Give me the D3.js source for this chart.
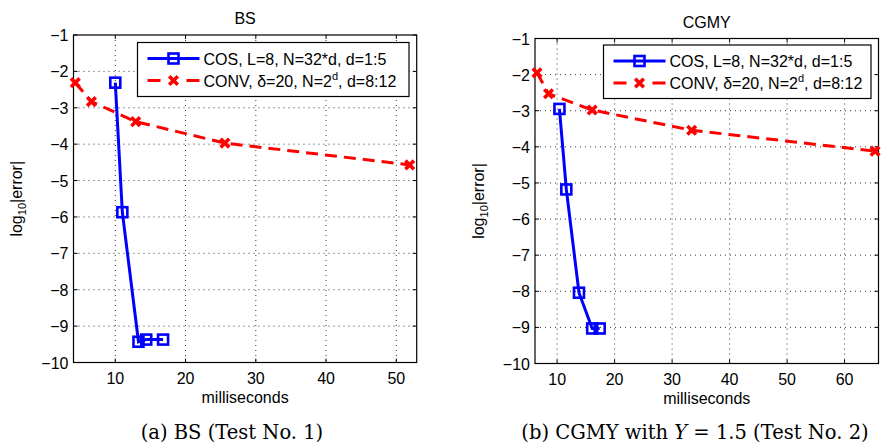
<!DOCTYPE html>
<html>
<head>
<meta charset="utf-8">
<script src="https://cdn.jsdelivr.net/npm/d3@7"></script>
<style>
  body { margin: 0; background: #fff; }
  svg { display: block; }
  .tick-lbl { font-family: "Liberation Sans", Arial, sans-serif; font-size: 16px; fill: #000; }
  .caption { font-family: "DejaVu Serif", "Liberation Serif", serif; font-size: 19.5px; fill: #000; }
</style>
</head>
<body>
<div id="chart"></div>
<script>
// ─── Data ───
const bsCosX = [10.0, 11.0, 13.3, 14.4, 16.8];
const bsCosY = [-2.31, -5.87, -9.43, -9.37, -9.37];
const bsConvX = [4.3, 6.6, 12.9, 25.6, 51.9];
const bsConvY = [-2.31, -2.83, -3.38, -3.97, -4.57];

const cgmyCosX = [10.4, 11.6, 13.8, 16.1, 17.4];
const cgmyCosY = [-2.95, -5.18, -8.04, -9.03, -9.03];
const cgmyConvX = [6.5, 8.5, 16.1, 33.4, 65.3];
const cgmyConvY = [-1.95, -2.53, -2.98, -3.54, -4.12];

const yTicks = [-1, -2, -3, -4, -5, -6, -7, -8, -9, -10];
const bsXTicks = [10, 20, 30, 40, 50];
const cgmyXTicks = [10, 20, 30, 40, 50, 60];

const cosLabel = "COS, L=8, N=32*d, d=1:5";

const W = 882, H = 444;
const svg = d3.select("#chart").append("svg").attr("width", W).attr("height", H);

const fmt = (v) => String(v).replace("-", "\u2212");

function panel(opts) {
  const { box, xDomain, xTicks, title, cos, conv, legend, caption, yLabelX } = opts;
  const x = d3.scaleLinear().domain(xDomain).range([box.x0, box.x1]);
  const y = d3.scaleLinear().domain([-10, -1]).range([box.y1, box.y0]);
  const g = svg.append("g");

  // grid (dotted)
  g.selectAll("line.gx").data(xTicks).join("line")
    .attr("x1", (d) => x(d)).attr("x2", (d) => x(d))
    .attr("y1", box.y0).attr("y2", box.y1)
    .attr("stroke", "#000").attr("stroke-width", 0.8)
    .attr("stroke-dasharray", "1,4");
  g.selectAll("line.gy").data(yTicks.slice(1, -1)).join("line")
    .attr("y1", (d) => y(d)).attr("y2", (d) => y(d))
    .attr("x1", box.x0).attr("x2", box.x1)
    .attr("stroke", "#000").attr("stroke-width", 0.8)
    .attr("stroke-dasharray", "1,4");

  // inward ticks on all four sides
  const tl = 4;
  xTicks.forEach((t) => {
    g.append("line").attr("x1", x(t)).attr("x2", x(t)).attr("y1", box.y1).attr("y2", box.y1 - tl).attr("stroke", "#000");
    g.append("line").attr("x1", x(t)).attr("x2", x(t)).attr("y1", box.y0).attr("y2", box.y0 + tl).attr("stroke", "#000");
    g.append("text").attr("class", "tick-lbl").attr("x", x(t)).attr("y", box.y1 + 21)
      .attr("text-anchor", "middle").text(fmt(t));
  });
  yTicks.forEach((t) => {
    g.append("line").attr("y1", y(t)).attr("y2", y(t)).attr("x1", box.x0).attr("x2", box.x0 + tl).attr("stroke", "#000");
    g.append("line").attr("y1", y(t)).attr("y2", y(t)).attr("x1", box.x1).attr("x2", box.x1 - tl).attr("stroke", "#000");
    g.append("text").attr("class", "tick-lbl").attr("x", box.x0 - 5).attr("y", y(t) + 6)
      .attr("text-anchor", "end").text(fmt(t));
  });

  // frame
  g.append("rect").attr("x", box.x0).attr("y", box.y0)
    .attr("width", box.x1 - box.x0).attr("height", box.y1 - box.y0)
    .attr("fill", "none").attr("stroke", "#000").attr("stroke-width", 1.2);

  // title + axis labels
  g.append("text").attr("class", "tick-lbl").attr("x", (box.x0 + box.x1) / 2).attr("y", box.y0 - 11)
    .attr("text-anchor", "middle").text(title);
  g.append("text").attr("class", "tick-lbl").attr("x", (box.x0 + box.x1) / 2).attr("y", box.y1 + 40)
    .attr("text-anchor", "middle").text("milliseconds");
  const yl = g.append("text").attr("class", "tick-lbl")
    .attr("transform", `translate(${yLabelX},${(box.y0 + box.y1) / 2}) rotate(-90)`)
    .attr("text-anchor", "middle");
  yl.append("tspan").text("log");
  yl.append("tspan").attr("dy", 4).style("font-size", "11px").text("10");
  yl.append("tspan").attr("dy", -4).text("|error|");

  const line = d3.line().x((d) => x(d[0])).y((d) => y(d[1]));

  // CONV (red dashed, x markers)
  const convPts = conv.x.map((v, i) => [v, conv.y[i]]);
  g.append("path").attr("d", line(convPts)).attr("fill", "none")
    .attr("stroke", "#ff0000").attr("stroke-width", 3).attr("stroke-dasharray", "12,7");
  const cross = (sel, cx, cy) => {
    const s = 4.3;
    sel.append("path")
      .attr("d", `M${cx - s},${cy - s}L${cx + s},${cy + s}M${cx - s},${cy + s}L${cx + s},${cy - s}`)
      .attr("stroke", "#ff0000").attr("stroke-width", 3.6).attr("fill", "none");
  };
  convPts.forEach((p) => cross(g, x(p[0]), y(p[1])));

  // COS (blue solid, square markers)
  const cosPts = cos.x.map((v, i) => [v, cos.y[i]]);
  g.append("path").attr("d", line(cosPts)).attr("fill", "none")
    .attr("stroke", "#0000ff").attr("stroke-width", 3);
  const square = (sel, cx, cy) => {
    sel.append("rect").attr("x", cx - 5).attr("y", cy - 5).attr("width", 10).attr("height", 10)
      .attr("fill", "none").attr("stroke", "#0000ff").attr("stroke-width", 2.6);
  };
  cosPts.forEach((p) => square(g, x(p[0]), y(p[1])));

  // legend
  const L = legend;
  g.append("rect").attr("x", L.x0).attr("y", L.y0).attr("width", L.x1 - L.x0).attr("height", L.y1 - L.y0)
    .attr("fill", "#fff").attr("stroke", "#000").attr("stroke-width", 1.2);
  const r1 = L.y0 + 16, r2 = L.y0 + 38;
  const lx0 = L.x0 + 10, lx1 = L.x0 + 62;
  g.append("line").attr("x1", lx0).attr("x2", lx1).attr("y1", r1).attr("y2", r1)
    .attr("stroke", "#0000ff").attr("stroke-width", 3);
  square(g, (lx0 + lx1) / 2, r1);
  g.append("line").attr("x1", lx0).attr("x2", lx1).attr("y1", r2).attr("y2", r2)
    .attr("stroke", "#ff0000").attr("stroke-width", 3).attr("stroke-dasharray", "13,26");
  cross(g, (lx0 + lx1) / 2, r2);
  g.append("text").attr("class", "tick-lbl").attr("x", lx1 + 4).attr("y", r1 + 6).text(cosLabel);
  const t2 = g.append("text").attr("class", "tick-lbl").attr("x", lx1 + 4).attr("y", r2 + 6);
  t2.append("tspan").text("CONV, \u03b4=20, N=2");
  t2.append("tspan").attr("dy", -7).style("font-size", "11px").text("d");
  t2.append("tspan").attr("dy", 7).text(", d=8:12");

  // caption
  svg.append("text").attr("class", "caption").attr("x", caption.x).attr("y", 439)
    .attr("text-anchor", "middle").html(caption.html);
}

panel({
  box: { x0: 73.5, x1: 416.7, y0: 35, y1: 362.5 },
  xDomain: [4.05, 52.9],
  xTicks: bsXTicks,
  title: "BS",
  cos: { x: bsCosX, y: bsCosY },
  conv: { x: bsConvX, y: bsConvY },
  legend: { x0: 137.5, x1: 409, y0: 42.5, y1: 96.5 },
  caption: { x: 232, html: "(a) BS (Test No. 1)" },
  yLabelX: 22,
});

panel({
  box: { x0: 535, x1: 878.5, y0: 38.5, y1: 363.5 },
  xDomain: [6.15, 65.9],
  xTicks: cgmyXTicks,
  title: "CGMY",
  cos: { x: cgmyCosX, y: cgmyCosY },
  conv: { x: cgmyConvX, y: cgmyConvY },
  legend: { x0: 603.5, x1: 871, y0: 45, y1: 98.5 },
  caption: { x: 695, html: "(b) CGMY with <tspan font-style=\"italic\">Y</tspan> = 1.5 (Test No. 2)" },
  yLabelX: 484,
});
</script>
</body>
</html>
